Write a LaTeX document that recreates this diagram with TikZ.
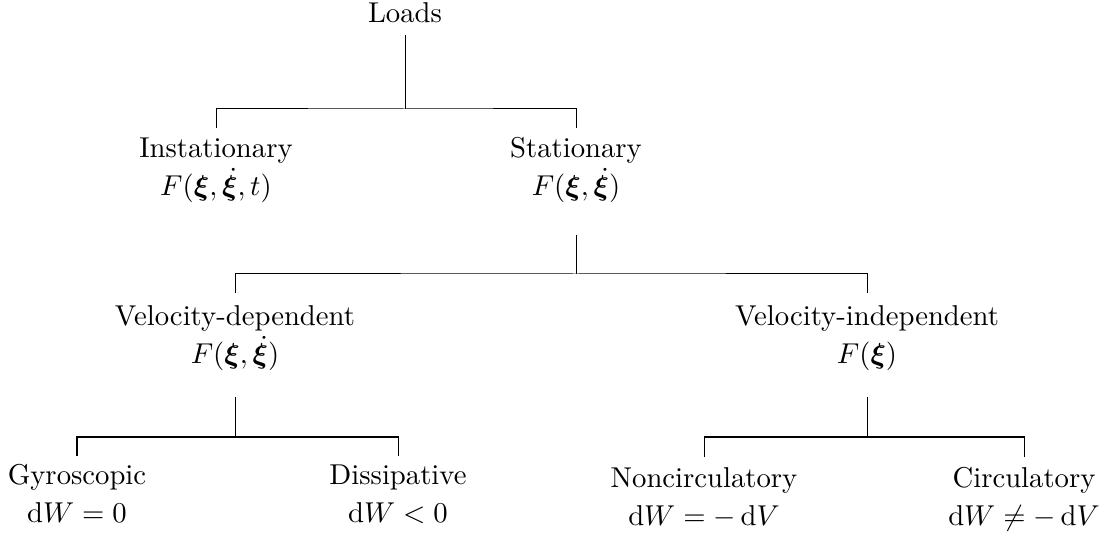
\documentclass[tikz,border=0pt]{standalone}
\usepackage{amsmath,bm}
\usetikzlibrary{calc}
\tikzset{
  lbl/.style={align=center, anchor=base, inner sep=0pt, outer sep=0pt,
              font=\fontsize{10}{13}\selectfont},
  conn/.style={draw=black, line width=0.35pt}
}
\begin{document}
\begin{tikzpicture}[x=0.3484pt, y=-0.3484pt]
\useasboundingbox (0,0) rectangle (1107,534);
% nodes (base anchor = baseline of the last line)
\node[lbl] (loads) at (405,23) {Loads};
\node[lbl] (inst) at (216,195.3) {Instationary\\$F(\bm{\xi},\dot{\bm{\xi}},t)$};
\node[lbl] (stat) at (576,195.3) {Stationary\\$F(\bm{\xi},\dot{\bm{\xi}})$};
\node[lbl] (veld) at (235,363.3) {Velocity-dependent\\$F(\bm{\xi},\dot{\bm{\xi}})$};
\node[lbl] (veli) at (867,363.3) {Velocity-independent\\$F(\bm{\xi})$};
\node[lbl] (gyro) at (77,522.3) {Gyroscopic\\$\mathrm{d}W=0$};
\node[lbl] (diss) at (398,522.3) {Dissipative\\$\mathrm{d}W<0$};
\node[lbl] (nonc) at (704,525.3) {Noncirculatory\\$\mathrm{d}W=-\,\mathrm{d}V$};
\node[lbl] (circ) at (1024,525.3) {Circulatory\\$\mathrm{d}W\neq-\,\mathrm{d}V$};
% junctions
\coordinate (j1) at (405,109);
\coordinate (j2) at (576,274);
\coordinate (j3) at (235,437);
\coordinate (j4) at (867,437);
% connectors
\draw[conn] ($(loads.base)+(0,12)$) -- (j1);
\draw[conn] ($(inst.base)+(0,-67.3)$) |- (j1) -| ($(stat.base)+(0,-67.3)$);
\draw[conn] ($(stat.base)+(0,39.7)$) -- (j2);
\draw[conn] ($(veld.base)+(0,-70.3)$) |- (j2) -| ($(veli.base)+(0,-70.3)$);
\draw[conn] ($(veld.base)+(0,33.7)$) -- (j3);
\draw[conn] ($(gyro.base)+(0,-66.3)$) |- (j3) -| ($(diss.base)+(0,-66.3)$);
\draw[conn] ($(veli.base)+(0,33.7)$) -- (j4);
\draw[conn] ($(nonc.base)+(0,-68.3)$) |- (j4) -| ($(circ.base)+(0,-68.3)$);
\end{tikzpicture}
\end{document}
